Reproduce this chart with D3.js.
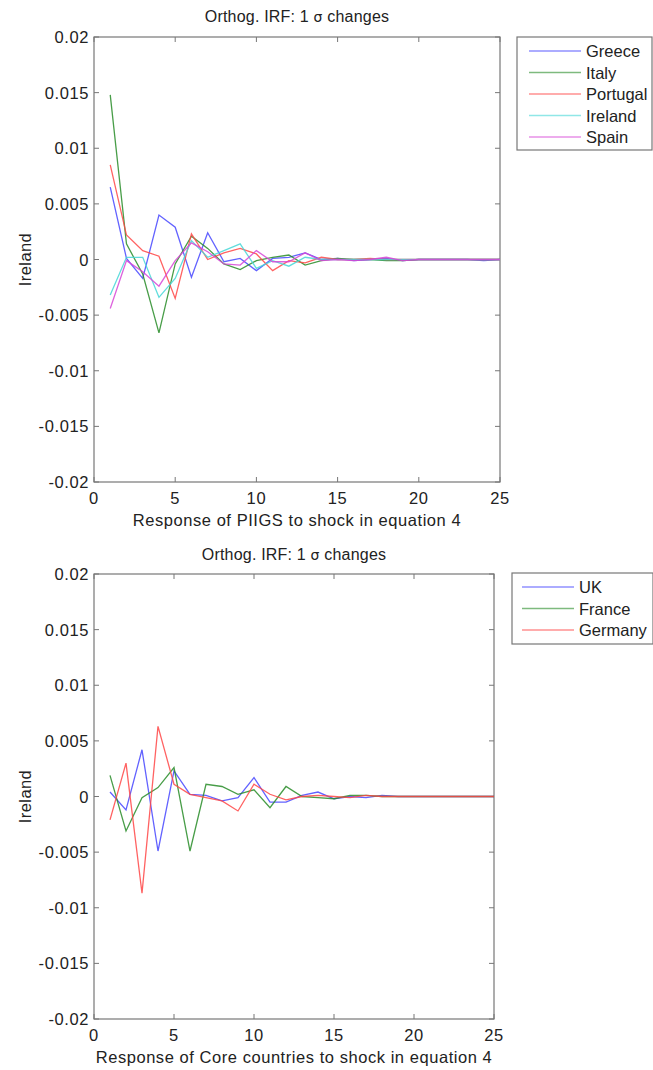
<!DOCTYPE html>
<html>
<head>
<meta charset="utf-8">
<script src="https://cdn.jsdelivr.net/npm/d3@7"></script>
<style>
  body { margin: 0; background: #fff; }
  svg { font-family: "Liberation Sans", Arial, Helvetica, sans-serif; }
</style>
</head>
<body>
<svg id="chart" width="653" height="1070"></svg>
<script>
// horizon steps 1..25
const steps = d3.range(1, 26);
const xTicks = [0, 5, 10, 15, 20, 25];
const yTicks = [-0.02, -0.015, -0.01, -0.005, 0, 0.005, 0.01, 0.015, 0.02];
const yTickLabels = ["-0.02", "-0.015", "-0.01", "-0.005", "0", "0.005", "0.01", "0.015", "0.02"];

// PIIGS responses
const greece   = [0.0065, 0.0001, -0.0017, 0.0040, 0.0029, -0.0016, 0.0024, -0.0002, 0.0001, -0.0010, 0.0001, 0.0002, 0.0006, 0.0000, 0.0001, -0.0001, 0.0000, 0.0001, -0.0001, 0.0000, 0.0000, 0.0000, 0.0000, -0.0001, 0.0000];
const italy    = [0.0148, 0.0014, -0.0013, -0.0066, -0.0004, 0.0021, 0.0010, -0.0004, -0.0009, -0.0001, 0.0002, 0.0004, -0.0005, -0.0001, 0.0001, 0.0000, 0.0000, -0.0001, -0.0001, 0.0000, 0.0000, 0.0000, 0.0000, 0.0000, 0.0000];
const portugal = [0.0085, 0.0022, 0.0008, 0.0003, -0.0035, 0.0023, 0.0000, 0.0006, 0.0010, 0.0005, -0.0010, -0.0001, -0.0003, 0.0002, 0.0000, 0.0000, 0.0001, 0.0000, 0.0000, 0.0000, 0.0000, 0.0000, 0.0000, 0.0000, 0.0000];
const ireland  = [-0.0032, 0.0002, 0.0002, -0.0034, -0.0017, 0.0017, 0.0002, 0.0008, 0.0014, -0.0008, -0.0001, -0.0006, 0.0002, 0.0000, 0.0000, 0.0000, 0.0000, 0.0000, 0.0000, 0.0000, 0.0000, 0.0000, 0.0000, 0.0000, 0.0000];
const spain    = [-0.0044, -0.0001, -0.0011, -0.0024, -0.0001, 0.0015, 0.0007, -0.0004, -0.0005, 0.0008, -0.0002, -0.0002, 0.0006, -0.0001, 0.0000, -0.0001, 0.0000, 0.0002, -0.0001, 0.0000, 0.0000, 0.0000, 0.0000, 0.0000, 0.0000];

// Core responses
const uk      = [0.0004, -0.0012, 0.0042, -0.0049, 0.0023, 0.0002, 0.0001, -0.0004, -0.0001, 0.0017, -0.0005, -0.0005, 0.0001, 0.0004, -0.0002, 0.0000, -0.0001, 0.0001, 0.0000, 0.0000, 0.0000, 0.0000, 0.0000, 0.0000, 0.0000];
const france  = [0.0019, -0.0031, -0.0001, 0.0008, 0.0026, -0.0049, 0.0011, 0.0009, 0.0002, 0.0006, -0.0010, 0.0009, 0.0000, -0.0001, -0.0002, 0.0001, 0.0001, 0.0000, 0.0000, 0.0000, 0.0000, 0.0000, 0.0000, 0.0000, 0.0000];
const germany = [-0.0021, 0.0030, -0.0087, 0.0063, 0.0011, 0.0002, -0.0001, -0.0004, -0.0013, 0.0011, 0.0002, -0.0003, 0.0000, 0.0001, 0.0000, -0.0001, 0.0001, 0.0000, 0.0000, 0.0000, 0.0000, 0.0000, 0.0000, 0.0000, 0.0000];

const blue = "rgb(70,70,255)", green = "rgb(40,140,40)", red = "rgb(255,70,70)",
      cyan = "rgb(70,215,215)", magenta = "rgb(215,70,215)";

const svg = d3.select("#chart");

function drawPanel(cfg) {
  const x = d3.scaleLinear().domain([0, 25]).range([cfg.left, cfg.right]);
  const y = d3.scaleLinear().domain([-0.02, 0.02]).range([cfg.bottom, cfg.top]);
  const g = svg.append("g");
  const tickLen = 5;

  // frame
  g.append("rect")
    .attr("x", cfg.left).attr("y", cfg.top)
    .attr("width", cfg.right - cfg.left).attr("height", cfg.bottom - cfg.top)
    .attr("fill", "none").attr("stroke", "#777").attr("stroke-width", 1.2);

  // inward ticks on all sides
  xTicks.forEach(t => {
    g.append("line").attr("x1", x(t)).attr("x2", x(t)).attr("y1", cfg.bottom).attr("y2", cfg.bottom - tickLen).attr("stroke", "#777");
    g.append("line").attr("x1", x(t)).attr("x2", x(t)).attr("y1", cfg.top).attr("y2", cfg.top + tickLen).attr("stroke", "#777");
    g.append("text").attr("x", x(t)).attr("y", cfg.bottom + 22)
      .attr("text-anchor", "middle").attr("font-size", 16.5).attr("letter-spacing", 0.6)
      .attr("fill", "#222").text(t);
  });
  yTicks.forEach((t, i) => {
    g.append("line").attr("x1", cfg.left).attr("x2", cfg.left + tickLen).attr("y1", y(t)).attr("y2", y(t)).attr("stroke", "#777");
    g.append("line").attr("x1", cfg.right).attr("x2", cfg.right - tickLen).attr("y1", y(t)).attr("y2", y(t)).attr("stroke", "#777");
    g.append("text").attr("x", cfg.left - 5).attr("y", y(t) + 6)
      .attr("text-anchor", "end").attr("font-size", 16.5).attr("letter-spacing", 0.6)
      .attr("fill", "#222").text(yTickLabels[i]);
  });

  const line = d3.line().x((d, i) => x(steps[i])).y(d => y(d));
  cfg.series.forEach(s => {
    g.append("path").datum(s.values)
      .attr("d", line).attr("fill", "none")
      .attr("stroke", s.color).attr("stroke-width", 1.3).attr("stroke-opacity", 0.85);
  });

  // titles
  const cx = (cfg.left + cfg.right) / 2;
  const title = g.append("text").attr("x", cx).attr("y", cfg.top - cfg.titleGap)
    .attr("text-anchor", "middle").attr("font-size", 16).attr("letter-spacing", 0.2).attr("fill", "#222");
  title.append("tspan").text("Orthog. IRF: 1 ");
  title.append("tspan").attr("font-family", "DejaVu Sans, sans-serif").attr("font-size", 14).text("σ");
  title.append("tspan").text(" changes");

  g.append("text").attr("x", cx).attr("y", cfg.bottom + 44)
    .attr("text-anchor", "middle").attr("font-size", 16.5).attr("letter-spacing", 0.55)
    .attr("fill", "#222").text(cfg.xLabel);
  g.append("text")
    .attr("transform", `translate(31,${(cfg.top + cfg.bottom) / 2}) rotate(-90)`)
    .attr("text-anchor", "middle").attr("font-size", 16.5).attr("letter-spacing", 0.4)
    .attr("fill", "#222").text("Ireland");

  // legend
  const lg = g.append("g");
  lg.append("rect")
    .attr("x", cfg.legend.x).attr("y", cfg.legend.y)
    .attr("width", cfg.legend.w).attr("height", cfg.legend.h)
    .attr("fill", "#fff").attr("stroke", "#777").attr("stroke-width", 1.2);
  cfg.series.forEach((s, i) => {
    const ly = cfg.legend.y + 14 + i * 21.5;
    lg.append("line")
      .attr("x1", cfg.legend.x + cfg.legend.lineX).attr("x2", cfg.legend.x + cfg.legend.lineX + 52)
      .attr("y1", ly).attr("y2", ly)
      .attr("stroke", s.color).attr("stroke-width", 1.3).attr("stroke-opacity", 0.6);
    lg.append("text")
      .attr("x", cfg.legend.x + cfg.legend.lineX + 57).attr("y", ly + 6)
      .attr("font-size", 16.5).attr("fill", "#222").text(s.name);
  });
}

drawPanel({
  left: 94, right: 500, top: 37, bottom: 482, titleGap: 15,
  xLabel: "Response of PIIGS to shock in equation 4",
  legend: { x: 517, y: 37, w: 135, h: 113, lineX: 12 },
  series: [
    { name: "Greece", values: greece, color: blue },
    { name: "Italy", values: italy, color: green },
    { name: "Portugal", values: portugal, color: red },
    { name: "Ireland", values: ireland, color: cyan },
    { name: "Spain", values: spain, color: magenta }
  ]
});

drawPanel({
  left: 94, right: 494, top: 574, bottom: 1019, titleGap: 14,
  xLabel: "Response of Core countries to shock in equation 4",
  legend: { x: 512, y: 573, w: 141, h: 71, lineX: 10 },
  series: [
    { name: "UK", values: uk, color: blue },
    { name: "France", values: france, color: green },
    { name: "Germany", values: germany, color: red }
  ]
});
</script>
</body>
</html>
